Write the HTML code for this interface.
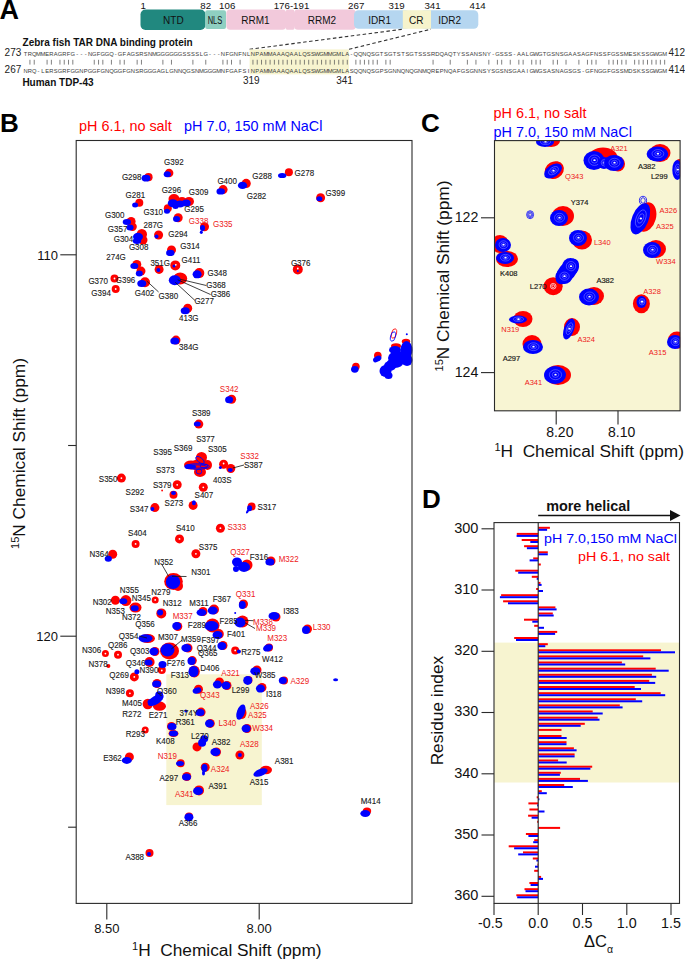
<!DOCTYPE html>
<html><head><meta charset="utf-8"><title>TDP-43 CR figure</title>
<style>html,body{margin:0;padding:0;background:#fff;overflow:hidden;width:685px;height:960px;} svg{display:block;font-family:"Liberation Sans", sans-serif;}</style></head>
<body><svg width="685" height="960" viewBox="0 0 685 960">
<rect width="685" height="960" fill="#fff"/>
<text x="-0.6" y="18.8" font-size="27" fill="#000" font-weight="bold" text-anchor="start" >A</text>
<rect x="140.5" y="9.5" width="65.0" height="20.5" rx="5" ry="5" fill="#21887f"/>
<text x="173.4" y="23.5" font-size="10" fill="#111" font-weight="normal" text-anchor="middle" >NTD</text>
<rect x="205.2" y="10.3" width="20.8" height="18.6" rx="2" ry="2" fill="#8fcfc1"/>
<text x="215.0" y="23.5" font-size="10" fill="#111" font-weight="normal" text-anchor="middle" textLength="14.6" lengthAdjust="spacingAndGlyphs">NLS</text>
<rect x="226.3" y="9.6" width="59.9" height="20.2" rx="4" ry="4" fill="#f2c9db"/>
<text x="255.5" y="23.5" font-size="10" fill="#111" font-weight="normal" text-anchor="middle" >RRM1</text>
<rect x="285.9" y="9.6" width="8.4" height="20.2" rx="1.6" ry="1.6" fill="#f2c9db"/>
<rect x="294.0" y="9.6" width="62.0" height="20.2" rx="4" ry="4" fill="#f2c9db"/>
<text x="322.0" y="23.5" font-size="10" fill="#111" font-weight="normal" text-anchor="middle" >RRM2</text>
<rect x="354.0" y="10.2" width="56.0" height="18.6" rx="4.5" ry="4.5" fill="#b5d6f0"/>
<rect x="420.0" y="10.2" width="58.3" height="18.6" rx="4.5" ry="4.5" fill="#b5d6f0"/>
<rect x="402.8" y="10.2" width="28.2" height="18.6" fill="#f6f3cc" />
<text x="379.6" y="23.5" font-size="10" fill="#111" font-weight="normal" text-anchor="middle" >IDR1</text>
<text x="416.3" y="23.5" font-size="10" fill="#111" font-weight="normal" text-anchor="middle" >CR</text>
<text x="449.7" y="23.5" font-size="10" fill="#111" font-weight="normal" text-anchor="middle" >IDR2</text>
<text x="143.2" y="8.7" font-size="9.7" fill="#111" font-weight="normal" text-anchor="middle" >1</text>
<text x="205.7" y="8.7" font-size="9.7" fill="#111" font-weight="normal" text-anchor="middle" >82</text>
<text x="227.2" y="8.7" font-size="9.7" fill="#111" font-weight="normal" text-anchor="middle" >106</text>
<text x="291.5" y="8.7" font-size="9.7" fill="#111" font-weight="normal" text-anchor="middle" >176-191</text>
<text x="356.2" y="8.7" font-size="9.7" fill="#111" font-weight="normal" text-anchor="middle" >267</text>
<text x="396.6" y="8.7" font-size="9.7" fill="#111" font-weight="normal" text-anchor="middle" >319</text>
<text x="432.5" y="8.7" font-size="9.7" fill="#111" font-weight="normal" text-anchor="middle" >341</text>
<text x="477.6" y="8.7" font-size="9.7" fill="#111" font-weight="normal" text-anchor="middle" >414</text>
<line x1="249.6" y1="49.3" x2="402.8" y2="29.2" stroke="#333" stroke-width="1.1" stroke-dasharray="3.5,2.5"/>
<line x1="349.0" y1="49.3" x2="431.0" y2="29.2" stroke="#333" stroke-width="1.1" stroke-dasharray="3.5,2.5"/>
<rect x="249.6" y="49.4" width="99.4" height="25.0" fill="#f7f4cf" />
<text x="22.6" y="45.6" font-size="10" fill="#111" font-weight="bold" text-anchor="start" >Zebra fish TAR DNA binding protein</text>
<text x="22.4" y="86.0" font-size="10" fill="#111" font-weight="bold" text-anchor="start" >Human TDP-43</text>
<text x="21.3" y="56.4" font-size="10" fill="#222" font-weight="normal" text-anchor="end" >273</text>
<text x="21.3" y="73.3" font-size="10" fill="#222" font-weight="normal" text-anchor="end" >267</text>
<text x="668.5" y="56.3" font-size="10" fill="#222" font-weight="normal" text-anchor="start" >412</text>
<text x="668.5" y="73.2" font-size="10" fill="#222" font-weight="normal" text-anchor="start" >414</text>
<text x="251.3" y="83.5" font-size="10" fill="#222" font-weight="normal" text-anchor="middle" >319</text>
<text x="344.6" y="83.5" font-size="10" fill="#222" font-weight="normal" text-anchor="middle" >341</text>
<text x="25.64 29.93 34.22 38.51 42.80 47.09 51.38 55.66 59.95 64.24 68.53 72.82 77.11 81.40 85.69 89.97 94.26 98.55 102.84 107.13 111.42 115.71 119.99 124.28 128.57 132.86 137.15 141.44 145.73 150.02 154.30 158.59 162.88 167.17 171.46 175.75 180.04 184.32 188.61 192.90 197.19 201.48 205.77 210.06 214.35 218.63 222.92 227.21 231.50 235.79 240.08 244.37 248.65 252.94 257.23 261.52 265.81 270.10 274.39 278.68 282.96 287.25 291.54 295.83 300.12 304.41 308.70 312.98 317.27 321.56 325.85 330.14 334.43 338.72 343.01 347.29 351.58 355.87 360.16 364.45 368.74 373.03 377.31 381.60 385.89 390.18 394.47 398.76 403.05 407.34 411.62 415.91 420.20 424.49 428.78 433.07 437.36 441.64 445.93 450.22 454.51 458.80 463.09 467.38 471.67 475.95 480.24 484.53 488.82 493.11 497.40 501.69 505.97 510.26 514.55 518.84 523.13 527.42 531.71 536.00 540.28 544.57 548.86 553.15 557.44 561.73 566.02 570.30 574.59 578.88 583.17 587.46 591.75 596.04 600.33 604.61 608.90 613.19 617.48 621.77 626.06 630.35 634.63 638.92 643.21 647.50 651.79 656.08 660.37 664.66" y="55.8" font-size="5.8" fill="#3a3a3a" text-anchor="middle">TRQMMERAGRFG---NGFGGQ-GFAGSRSNMGGGGGGSSSSLG---NFGNFNLNPAMMAAAQAALQSSWGMMGMLA-QQNQSGTSGTSTSGTSSSRDQAQTYSSANSNY-GSSS-AALGWGTGSNSGAASAGFNSSFGSSMESKSSGWGM</text>
<text x="25.64 29.93 34.22 38.51 42.80 47.09 51.38 55.66 59.95 64.24 68.53 72.82 77.11 81.40 85.69 89.97 94.26 98.55 102.84 107.13 111.42 115.71 119.99 124.28 128.57 132.86 137.15 141.44 145.73 150.02 154.30 158.59 162.88 167.17 171.46 175.75 180.04 184.32 188.61 192.90 197.19 201.48 205.77 210.06 214.35 218.63 222.92 227.21 231.50 235.79 240.08 244.37 248.65 252.94 257.23 261.52 265.81 270.10 274.39 278.68 282.96 287.25 291.54 295.83 300.12 304.41 308.70 312.98 317.27 321.56 325.85 330.14 334.43 338.72 343.01 347.29 351.58 355.87 360.16 364.45 368.74 373.03 377.31 381.60 385.89 390.18 394.47 398.76 403.05 407.34 411.62 415.91 420.20 424.49 428.78 433.07 437.36 441.64 445.93 450.22 454.51 458.80 463.09 467.38 471.67 475.95 480.24 484.53 488.82 493.11 497.40 501.69 505.97 510.26 514.55 518.84 523.13 527.42 531.71 536.00 540.28 544.57 548.86 553.15 557.44 561.73 566.02 570.30 574.59 578.88 583.17 587.46 591.75 596.04 600.33 604.61 608.90 613.19 617.48 621.77 626.06 630.35 634.63 638.92 643.21 647.50 651.79 656.08 660.37 664.66" y="73.2" font-size="5.8" fill="#3a3a3a" text-anchor="middle">NRQ-LERSGRFGGNPGGFGNQGGFGNSRGGGAGLGNNQGSNMGGGMNFGAFSINPAMMAAAQAALQSSWGMMGMLASQQNQSGPSGNNQNQGNMQREPNQAFGSGNNSYSGSNSGAAIGWGSASNAGSGS-GFNGGFGSSMDSKSSGWGM</text>
<path d="M29.93 59.8V64.6 M34.22 59.8V64.6 M47.09 59.8V64.6 M51.38 59.8V64.6 M59.95 59.8V64.6 M64.24 59.8V64.6 M68.53 59.8V64.6 M72.82 59.8V64.6 M94.26 59.8V64.6 M98.55 59.8V64.6 M102.84 59.8V64.6 M111.42 59.8V64.6 M119.99 59.8V64.6 M124.28 59.8V64.6 M137.15 59.8V64.6 M141.44 59.8V64.6 M162.88 59.8V64.6 M171.46 59.8V64.6 M192.90 59.8V64.6 M205.77 59.8V64.6 M222.92 59.8V64.6 M227.21 59.8V64.6 M231.50 59.8V64.6 M240.08 59.8V64.6 M252.94 59.8V64.6 M257.23 59.8V64.6 M261.52 59.8V64.6 M265.81 59.8V64.6 M270.10 59.8V64.6 M274.39 59.8V64.6 M278.68 59.8V64.6 M282.96 59.8V64.6 M287.25 59.8V64.6 M291.54 59.8V64.6 M295.83 59.8V64.6 M300.12 59.8V64.6 M304.41 59.8V64.6 M308.70 59.8V64.6 M312.98 59.8V64.6 M317.27 59.8V64.6 M321.56 59.8V64.6 M325.85 59.8V64.6 M330.14 59.8V64.6 M334.43 59.8V64.6 M338.72 59.8V64.6 M343.01 59.8V64.6 M347.29 59.8V64.6 M355.87 59.8V64.6 M360.16 59.8V64.6 M364.45 59.8V64.6 M368.74 59.8V64.6 M373.03 59.8V64.6 M377.31 59.8V64.6 M385.89 59.8V64.6 M390.18 59.8V64.6 M433.07 59.8V64.6 M450.22 59.8V64.6 M467.38 59.8V64.6 M475.95 59.8V64.6 M488.82 59.8V64.6 M497.40 59.8V64.6 M501.69 59.8V64.6 M510.26 59.8V64.6 M518.84 59.8V64.6 M523.13 59.8V64.6 M531.71 59.8V64.6 M536.00 59.8V64.6 M540.28 59.8V64.6 M553.15 59.8V64.6 M557.44 59.8V64.6 M566.02 59.8V64.6 M578.88 59.8V64.6 M587.46 59.8V64.6 M591.75 59.8V64.6 M596.04 59.8V64.6 M608.90 59.8V64.6 M613.19 59.8V64.6 M617.48 59.8V64.6 M621.77 59.8V64.6 M626.06 59.8V64.6 M634.63 59.8V64.6 M638.92 59.8V64.6 M643.21 59.8V64.6 M647.50 59.8V64.6 M651.79 59.8V64.6 M656.08 59.8V64.6 M660.37 59.8V64.6 M664.66 59.8V64.6" stroke="#555" stroke-width="0.75" fill="none"/>
<text x="0.0" y="131.9" font-size="26" fill="#000" font-weight="bold" text-anchor="start" >B</text>
<text x="79.0" y="130.8" font-size="14.4" fill="#ff0000" font-weight="normal" text-anchor="start" >pH 6.1, no salt</text>
<text x="184.0" y="130.8" font-size="14.4" fill="#0000ff" font-weight="normal" text-anchor="start" >pH 7.0, 150 mM NaCl</text>
<g id="bpeaks"><rect x="166.3" y="674.3" width="95.5" height="130.8" fill="#f7f4d0"/>
<ellipse cx="169.1" cy="173.0" rx="4.3" ry="4.3" fill="#ff0000" />
<ellipse cx="148.5" cy="177.2" rx="4.1" ry="4.1" fill="#ff0000" />
<ellipse cx="139.3" cy="202.8" rx="4.0" ry="4.0" fill="#ff0000" />
<ellipse cx="174.0" cy="199.0" rx="5.5" ry="5.0" fill="#ff0000" />
<ellipse cx="182.0" cy="201.5" rx="5.0" ry="4.5" fill="#ff0000" />
<ellipse cx="189.0" cy="201.5" rx="5.0" ry="4.5" fill="#ff0000" />
<ellipse cx="167.8" cy="208.2" rx="4.0" ry="4.0" fill="#ff0000" />
<ellipse cx="223.1" cy="189.6" rx="4.5" ry="4.5" fill="#ff0000" />
<ellipse cx="246.2" cy="183.4" rx="4.6" ry="4.6" fill="#ff0000" />
<ellipse cx="288.9" cy="172.3" rx="4.0" ry="4.0" fill="#ff0000" />
<ellipse cx="320.6" cy="197.8" rx="4.5" ry="4.5" fill="#ff0000" />
<ellipse cx="178.2" cy="217.7" rx="4.5" ry="4.5" fill="#ff0000" />
<ellipse cx="204.5" cy="226.8" rx="4.5" ry="4.5" fill="#ff0000" />
<ellipse cx="131.1" cy="221.4" rx="4.5" ry="4.5" fill="#ff0000" />
<ellipse cx="132.6" cy="226.8" rx="4.2" ry="4.2" fill="#ff0000" />
<ellipse cx="141.8" cy="234.3" rx="5.2" ry="5.2" fill="#ff0000" />
<ellipse cx="143.0" cy="240.0" rx="4.5" ry="4.5" fill="#ff0000" />
<ellipse cx="158.6" cy="235.0" rx="4.5" ry="4.5" fill="#ff0000" />
<ellipse cx="171.5" cy="249.9" rx="4.5" ry="4.5" fill="#ff0000" />
<ellipse cx="136.8" cy="264.4" rx="4.5" ry="4.5" fill="#ff0000" />
<ellipse cx="141.0" cy="271.1" rx="4.5" ry="4.5" fill="#ff0000" />
<ellipse cx="145.0" cy="282.3" rx="5.0" ry="5.0" fill="#ff0000" />
<ellipse cx="159.1" cy="269.4" rx="4.5" ry="4.5" fill="#ff0000" />
<ellipse cx="175.3" cy="265.4" rx="5.0" ry="5.0" fill="#ff0000" />
<ellipse cx="114.5" cy="278.5" rx="4.0" ry="4.0" fill="#ff0000" />
<ellipse cx="115.7" cy="289.0" rx="4.0" ry="4.0" fill="#ff0000" />
<ellipse cx="180.2" cy="278.5" rx="7.0" ry="6.0" fill="#ff0000" />
<ellipse cx="199.3" cy="273.1" rx="5.0" ry="5.0" fill="#ff0000" />
<ellipse cx="187.7" cy="308.3" rx="4.5" ry="4.5" fill="#ff0000" />
<ellipse cx="176.0" cy="340.1" rx="4.5" ry="4.5" fill="#ff0000" />
<ellipse cx="297.8" cy="269.4" rx="5.0" ry="5.0" fill="#ff0000" />
<ellipse cx="355.9" cy="366.5" rx="3.8" ry="3.8" fill="#ff0000" />
<ellipse cx="377.8" cy="355.6" rx="3.8" ry="3.8" fill="#ff0000" />
<ellipse cx="396.0" cy="346.0" rx="5.0" ry="2.8" fill="#ff0000" />
<ellipse cx="406.0" cy="341.5" rx="4.2" ry="2.8" fill="#ff0000" />
<ellipse cx="395.0" cy="364.0" rx="2.0" ry="1.5" fill="#ff0000" />
<ellipse cx="231.6" cy="399.3" rx="4.5" ry="4.5" fill="#ff0000" />
<ellipse cx="198.8" cy="424.1" rx="4.5" ry="4.5" fill="#ff0000" />
<ellipse cx="191.0" cy="465.0" rx="7.0" ry="4.5" fill="#ff0000" />
<ellipse cx="201.5" cy="457.5" rx="5.5" ry="5.5" fill="#ff0000" />
<ellipse cx="207.5" cy="465.0" rx="4.5" ry="5.0" fill="#ff0000" />
<ellipse cx="200.0" cy="472.0" rx="6.0" ry="5.0" fill="#ff0000" />
<ellipse cx="199.0" cy="465.0" rx="8.0" ry="6.0" fill="#ff0000" />
<ellipse cx="223.6" cy="464.3" rx="4.5" ry="4.5" fill="#ff0000" />
<ellipse cx="230.8" cy="468.5" rx="4.5" ry="4.5" fill="#ff0000" />
<ellipse cx="121.4" cy="478.1" rx="4.5" ry="4.5" fill="#ff0000" />
<ellipse cx="177.2" cy="484.8" rx="4.5" ry="4.5" fill="#ff0000" />
<ellipse cx="162.1" cy="490.5" rx="0.9" ry="0.9" fill="#ff0000" />
<ellipse cx="173.5" cy="494.7" rx="4.0" ry="4.0" fill="#ff0000" />
<ellipse cx="203.3" cy="487.3" rx="4.5" ry="4.5" fill="#ff0000" />
<ellipse cx="193.1" cy="505.4" rx="4.5" ry="4.5" fill="#ff0000" />
<ellipse cx="154.9" cy="507.6" rx="4.5" ry="4.5" fill="#ff0000" />
<ellipse cx="251.6" cy="506.5" rx="4.0" ry="4.0" fill="#ff0000" />
<ellipse cx="220.4" cy="528.2" rx="4.5" ry="4.5" fill="#ff0000" />
<ellipse cx="135.6" cy="543.9" rx="4.0" ry="4.0" fill="#ff0000" />
<ellipse cx="179.5" cy="538.9" rx="4.5" ry="4.5" fill="#ff0000" />
<ellipse cx="195.9" cy="553.8" rx="4.5" ry="4.5" fill="#ff0000" />
<ellipse cx="112.7" cy="554.3" rx="4.5" ry="4.5" fill="#ff0000" />
<ellipse cx="247.0" cy="565.0" rx="5.5" ry="5.5" fill="#ff0000" />
<ellipse cx="271.0" cy="561.0" rx="4.5" ry="4.5" fill="#ff0000" />
<ellipse cx="173.5" cy="581.5" rx="9.3" ry="8.5" fill="#ff0000" />
<ellipse cx="178.0" cy="586.0" rx="5.0" ry="5.0" fill="#ff0000" />
<ellipse cx="115.4" cy="600.3" rx="4.5" ry="4.5" fill="#ff0000" />
<ellipse cx="125.9" cy="600.6" rx="5.5" ry="5.5" fill="#ff0000" />
<ellipse cx="135.5" cy="607.6" rx="6.0" ry="5.0" fill="#ff0000" />
<ellipse cx="155.2" cy="599.9" rx="3.5" ry="3.5" fill="#ff0000" />
<ellipse cx="161.3" cy="613.4" rx="5.0" ry="5.0" fill="#ff0000" />
<ellipse cx="243.5" cy="604.0" rx="4.5" ry="4.5" fill="#ff0000" />
<ellipse cx="203.0" cy="611.5" rx="4.5" ry="4.5" fill="#ff0000" />
<ellipse cx="214.0" cy="609.5" rx="5.0" ry="5.0" fill="#ff0000" />
<ellipse cx="276.0" cy="617.0" rx="4.5" ry="4.5" fill="#ff0000" />
<ellipse cx="242.5" cy="621.5" rx="6.0" ry="6.0" fill="#ff0000" />
<ellipse cx="307.5" cy="629.0" rx="4.5" ry="4.5" fill="#ff0000" />
<ellipse cx="212.5" cy="625.5" rx="7.0" ry="7.0" fill="#ff0000" />
<ellipse cx="218.8" cy="634.0" rx="5.0" ry="5.0" fill="#ff0000" />
<ellipse cx="177.8" cy="626.5" rx="4.5" ry="4.5" fill="#ff0000" />
<ellipse cx="147.5" cy="638.5" rx="7.5" ry="4.5" fill="#ff0000" />
<ellipse cx="155.0" cy="651.5" rx="4.5" ry="4.5" fill="#ff0000" />
<ellipse cx="169.5" cy="651.0" rx="9.5" ry="8.5" fill="#ff0000" />
<ellipse cx="188.0" cy="648.0" rx="4.5" ry="4.5" fill="#ff0000" />
<ellipse cx="105.4" cy="653.6" rx="3.5" ry="3.5" fill="#ff0000" />
<ellipse cx="118.0" cy="654.7" rx="4.0" ry="4.0" fill="#ff0000" />
<ellipse cx="108.4" cy="665.9" rx="2.0" ry="2.0" fill="#ff0000" />
<ellipse cx="149.6" cy="662.0" rx="5.0" ry="5.0" fill="#ff0000" />
<ellipse cx="161.8" cy="669.9" rx="4.0" ry="4.0" fill="#ff0000" />
<ellipse cx="134.3" cy="676.9" rx="4.5" ry="4.5" fill="#ff0000" />
<ellipse cx="157.0" cy="683.5" rx="4.5" ry="4.5" fill="#ff0000" />
<ellipse cx="129.9" cy="693.3" rx="4.0" ry="4.0" fill="#ff0000" />
<ellipse cx="147.8" cy="704.0" rx="5.2" ry="5.2" fill="#ff0000" />
<ellipse cx="159.5" cy="706.2" rx="6.5" ry="4.6" fill="#ff0000" />
<ellipse cx="223.0" cy="645.5" rx="4.5" ry="4.5" fill="#ff0000" />
<ellipse cx="235.2" cy="650.4" rx="4.0" ry="4.0" fill="#ff0000" />
<ellipse cx="269.0" cy="647.5" rx="4.0" ry="4.0" fill="#ff0000" />
<ellipse cx="192.3" cy="660.6" rx="4.5" ry="4.5" fill="#ff0000" />
<ellipse cx="194.3" cy="671.5" rx="5.5" ry="6.0" fill="#ff0000" />
<ellipse cx="219.5" cy="682.0" rx="4.5" ry="4.5" fill="#ff0000" />
<ellipse cx="227.0" cy="685.5" rx="4.5" ry="4.5" fill="#ff0000" />
<ellipse cx="248.5" cy="680.0" rx="4.0" ry="4.0" fill="#ff0000" />
<ellipse cx="257.0" cy="670.0" rx="4.5" ry="4.5" fill="#ff0000" />
<ellipse cx="284.0" cy="680.5" rx="4.0" ry="4.0" fill="#ff0000" />
<ellipse cx="262.0" cy="687.5" rx="4.5" ry="4.5" fill="#ff0000" />
<ellipse cx="198.5" cy="689.3" rx="4.5" ry="4.5" fill="#ff0000" />
<ellipse cx="201.1" cy="712.1" rx="4.5" ry="4.5" fill="#ff0000" />
<ellipse cx="242.0" cy="713.0" rx="4.5" ry="6.0" fill="#ff0000" />
<ellipse cx="210.3" cy="723.4" rx="4.5" ry="4.5" fill="#ff0000" />
<ellipse cx="247.0" cy="728.5" rx="4.5" ry="4.5" fill="#ff0000" />
<ellipse cx="171.5" cy="726.4" rx="4.5" ry="4.5" fill="#ff0000" />
<ellipse cx="173.5" cy="733.6" rx="5.0" ry="3.5" fill="#ff0000" />
<ellipse cx="197.0" cy="746.9" rx="4.5" ry="4.5" fill="#ff0000" />
<ellipse cx="216.5" cy="752.0" rx="4.5" ry="4.5" fill="#ff0000" />
<ellipse cx="239.9" cy="755.0" rx="4.5" ry="4.5" fill="#ff0000" />
<ellipse cx="180.7" cy="763.2" rx="4.0" ry="4.0" fill="#ff0000" />
<ellipse cx="205.2" cy="767.3" rx="4.5" ry="4.5" fill="#ff0000" />
<ellipse cx="266.0" cy="770.0" rx="6.0" ry="4.2" fill="#ff0000" />
<ellipse cx="186.8" cy="776.5" rx="4.5" ry="4.5" fill="#ff0000" />
<ellipse cx="199.0" cy="790.4" rx="5.0" ry="5.0" fill="#ff0000" />
<ellipse cx="189.0" cy="816.5" rx="4.0" ry="4.0" fill="#ff0000" />
<ellipse cx="149.5" cy="853.1" rx="4.0" ry="4.0" fill="#ff0000" />
<ellipse cx="367.0" cy="811.0" rx="4.2" ry="3.5" fill="#ff0000" />
<ellipse cx="129.4" cy="756.9" rx="4.5" ry="4.5" fill="#ff0000" />
<ellipse cx="145.2" cy="729.9" rx="3.5" ry="3.5" fill="#ff0000" />
<ellipse cx="167.3" cy="174.2" rx="3.6" ry="3.0" fill="#0000ff" />
<ellipse cx="146.0" cy="178.2" rx="4.4" ry="3.4" fill="#0000ff" />
<ellipse cx="135.1" cy="205.0" rx="3.0" ry="2.5" fill="#0000ff" />
<ellipse cx="172.8" cy="203.2" rx="5.0" ry="4.0" fill="#0000ff" />
<ellipse cx="180.0" cy="204.0" rx="5.0" ry="3.6" fill="#0000ff" />
<ellipse cx="186.2" cy="203.0" rx="4.5" ry="3.5" fill="#0000ff" />
<ellipse cx="175.5" cy="206.5" rx="3.0" ry="2.5" fill="#0000ff" />
<ellipse cx="167.0" cy="211.2" rx="3.0" ry="2.5" fill="#0000ff" />
<ellipse cx="220.7" cy="191.4" rx="4.2" ry="3.2" fill="#0000ff" />
<ellipse cx="242.5" cy="185.4" rx="4.6" ry="3.6" fill="#0000ff" />
<ellipse cx="282.2" cy="175.5" rx="4.2" ry="2.6" fill="#0000ff" />
<ellipse cx="319.4" cy="198.8" rx="3.0" ry="2.5" fill="#0000ff" />
<ellipse cx="176.5" cy="218.9" rx="3.5" ry="3.0" fill="#0000ff" />
<ellipse cx="202.5" cy="228.1" rx="2.5" ry="3.0" fill="#0000ff" />
<ellipse cx="201.3" cy="232.3" rx="1.5" ry="1.8" fill="#0000ff" />
<ellipse cx="126.9" cy="221.9" rx="4.2" ry="3.0" fill="#0000ff" />
<ellipse cx="130.0" cy="227.5" rx="3.6" ry="3.0" fill="#0000ff" />
<ellipse cx="138.0" cy="236.8" rx="5.0" ry="4.0" fill="#0000ff" />
<ellipse cx="137.0" cy="241.0" rx="4.2" ry="3.0" fill="#0000ff" />
<ellipse cx="156.5" cy="236.5" rx="2.0" ry="2.0" fill="#0000ff" />
<ellipse cx="170.3" cy="252.9" rx="4.2" ry="3.2" fill="#0000ff" />
<ellipse cx="134.3" cy="266.1" rx="4.0" ry="3.0" fill="#0000ff" />
<ellipse cx="139.3" cy="273.6" rx="3.5" ry="3.0" fill="#0000ff" />
<ellipse cx="141.8" cy="283.5" rx="4.5" ry="3.5" fill="#0000ff" />
<ellipse cx="158.4" cy="269.9" rx="2.0" ry="2.0" fill="#0000ff" />
<ellipse cx="174.0" cy="266.0" rx="1.5" ry="1.5" fill="#0000ff" />
<ellipse cx="174.8" cy="280.3" rx="6.0" ry="5.0" fill="#0000ff" />
<ellipse cx="197.1" cy="274.3" rx="4.5" ry="4.0" fill="#0000ff" />
<ellipse cx="185.2" cy="310.8" rx="4.5" ry="3.5" fill="#0000ff" />
<ellipse cx="174.8" cy="341.1" rx="4.5" ry="3.5" fill="#0000ff" />
<ellipse cx="297.8" cy="271.0" rx="1.0" ry="1.0" fill="#0000ff" />
<ellipse cx="354.8" cy="369.3" rx="3.8" ry="3.4" fill="#0000ff" />
<ellipse cx="377.2" cy="358.9" rx="4.5" ry="2.8" fill="#0000ff" transform="rotate(-30 377.2 358.9)" />
<ellipse cx="385.5" cy="371.0" rx="6.0" ry="6.0" fill="#0000ff" />
<ellipse cx="390.0" cy="366.0" rx="6.0" ry="5.0" fill="#0000ff" />
<ellipse cx="398.0" cy="358.0" rx="10.0" ry="7.0" fill="#0000ff" />
<ellipse cx="406.5" cy="350.0" rx="6.0" ry="9.0" fill="#0000ff" />
<ellipse cx="407.0" cy="360.0" rx="5.5" ry="6.0" fill="#0000ff" />
<ellipse cx="395.0" cy="350.0" rx="6.0" ry="4.0" fill="#0000ff" />
<ellipse cx="395.0" cy="363.0" rx="8.0" ry="5.0" fill="#0000ff" />
<ellipse cx="388.5" cy="375.5" rx="4.0" ry="3.5" fill="#0000ff" />
<ellipse cx="406.8" cy="334.2" rx="1.0" ry="1.0" fill="#0000ff" />
<ellipse cx="229.1" cy="399.8" rx="4.0" ry="3.5" fill="#0000ff" />
<ellipse cx="197.3" cy="424.1" rx="3.5" ry="2.5" fill="#0000ff" />
<ellipse cx="189.0" cy="466.5" rx="4.5" ry="2.6" fill="#0000ff" />
<ellipse cx="193.0" cy="466.8" rx="3.0" ry="2.0" fill="#0000ff" />
<ellipse cx="220.4" cy="467.5" rx="1.5" ry="1.5" fill="#0000ff" />
<ellipse cx="230.3" cy="470.0" rx="2.5" ry="2.0" fill="#0000ff" />
<ellipse cx="173.5" cy="493.0" rx="2.5" ry="2.0" fill="#0000ff" />
<ellipse cx="193.9" cy="502.7" rx="2.0" ry="2.5" fill="#0000ff" />
<ellipse cx="152.4" cy="508.9" rx="2.0" ry="2.0" fill="#0000ff" />
<ellipse cx="249.6" cy="508.2" rx="2.5" ry="3.0" fill="#0000ff" />
<ellipse cx="247.5" cy="511.5" rx="1.2" ry="2.2" fill="#0000ff" transform="rotate(30 247.5 511.5)" />
<ellipse cx="108.3" cy="558.8" rx="3.6" ry="3.0" fill="#0000ff" />
<ellipse cx="237.0" cy="562.0" rx="5.0" ry="4.5" fill="#0000ff" />
<ellipse cx="244.0" cy="567.0" rx="6.0" ry="5.0" fill="#0000ff" />
<ellipse cx="236.0" cy="569.0" rx="3.0" ry="3.0" fill="#0000ff" />
<ellipse cx="269.9" cy="562.0" rx="4.5" ry="3.5" fill="#0000ff" />
<ellipse cx="173.0" cy="582.0" rx="7.2" ry="7.0" fill="#0000ff" />
<ellipse cx="123.3" cy="601.2" rx="4.0" ry="3.0" fill="#0000ff" />
<ellipse cx="134.7" cy="608.2" rx="4.0" ry="3.0" fill="#0000ff" />
<ellipse cx="160.1" cy="612.5" rx="3.0" ry="3.0" fill="#0000ff" />
<ellipse cx="242.3" cy="605.0" rx="3.5" ry="4.0" fill="#0000ff" />
<ellipse cx="201.5" cy="612.6" rx="5.0" ry="3.5" fill="#0000ff" />
<ellipse cx="212.7" cy="610.5" rx="5.0" ry="4.0" fill="#0000ff" />
<ellipse cx="274.0" cy="616.0" rx="5.5" ry="4.0" fill="#0000ff" />
<ellipse cx="235.2" cy="613.0" rx="1.0" ry="1.0" fill="#0000ff" />
<ellipse cx="240.0" cy="622.5" rx="5.5" ry="5.0" fill="#0000ff" />
<ellipse cx="306.0" cy="630.0" rx="4.0" ry="4.0" fill="#0000ff" />
<ellipse cx="211.5" cy="626.0" rx="7.0" ry="5.0" fill="#0000ff" />
<ellipse cx="217.5" cy="635.0" rx="5.0" ry="4.0" fill="#0000ff" />
<ellipse cx="176.7" cy="626.0" rx="4.5" ry="4.0" fill="#0000ff" />
<ellipse cx="145.5" cy="638.3" rx="7.0" ry="4.0" fill="#0000ff" />
<ellipse cx="153.9" cy="651.5" rx="4.5" ry="4.0" fill="#0000ff" />
<ellipse cx="167.5" cy="650.0" rx="7.0" ry="6.5" fill="#0000ff" />
<ellipse cx="186.3" cy="648.0" rx="5.0" ry="4.0" fill="#0000ff" />
<ellipse cx="148.5" cy="662.5" rx="4.0" ry="3.0" fill="#0000ff" />
<ellipse cx="162.5" cy="664.5" rx="4.0" ry="3.5" fill="#0000ff" />
<ellipse cx="136.9" cy="671.7" rx="2.5" ry="2.5" fill="#0000ff" />
<ellipse cx="156.6" cy="683.9" rx="4.5" ry="3.5" fill="#0000ff" />
<ellipse cx="159.2" cy="695.3" rx="4.0" ry="4.0" fill="#0000ff" />
<ellipse cx="155.7" cy="700.1" rx="9.0" ry="4.2" fill="#0000ff" transform="rotate(-32 155.7 700.1)" />
<ellipse cx="151.5" cy="702.0" rx="4.0" ry="3.0" fill="#0000ff" />
<ellipse cx="221.9" cy="645.9" rx="4.5" ry="4.0" fill="#0000ff" />
<ellipse cx="238.9" cy="651.4" rx="2.0" ry="2.0" fill="#0000ff" />
<ellipse cx="267.9" cy="647.9" rx="5.0" ry="3.5" fill="#0000ff" transform="rotate(-20 267.9 647.9)" />
<ellipse cx="191.5" cy="661.0" rx="4.0" ry="4.0" fill="#0000ff" />
<ellipse cx="193.5" cy="671.5" rx="5.0" ry="5.5" fill="#0000ff" />
<ellipse cx="217.4" cy="684.5" rx="4.5" ry="4.0" fill="#0000ff" />
<ellipse cx="226.0" cy="685.5" rx="4.5" ry="4.0" fill="#0000ff" />
<ellipse cx="247.7" cy="680.4" rx="4.5" ry="4.5" fill="#0000ff" />
<ellipse cx="255.3" cy="671.2" rx="5.0" ry="4.0" fill="#0000ff" />
<ellipse cx="282.8" cy="680.4" rx="4.0" ry="3.5" fill="#0000ff" />
<ellipse cx="335.6" cy="679.7" rx="2.5" ry="1.5" fill="#0000ff" />
<ellipse cx="260.4" cy="688.6" rx="4.5" ry="4.0" fill="#0000ff" />
<ellipse cx="197.0" cy="690.5" rx="4.5" ry="3.0" fill="#0000ff" transform="rotate(-20 197.0 690.5)" />
<ellipse cx="185.8" cy="711.1" rx="1.5" ry="1.5" fill="#0000ff" />
<ellipse cx="200.0" cy="712.5" rx="4.5" ry="3.5" fill="#0000ff" />
<ellipse cx="240.9" cy="712.1" rx="4.0" ry="8.0" fill="#0000ff" transform="rotate(20 240.9 712.1)" />
<ellipse cx="209.5" cy="723.5" rx="4.5" ry="4.0" fill="#0000ff" />
<ellipse cx="246.1" cy="728.5" rx="4.5" ry="4.0" fill="#0000ff" />
<ellipse cx="172.0" cy="726.5" rx="4.5" ry="3.5" fill="#0000ff" />
<ellipse cx="173.5" cy="733.6" rx="4.5" ry="3.0" fill="#0000ff" />
<ellipse cx="204.2" cy="738.7" rx="4.0" ry="3.5" fill="#0000ff" />
<ellipse cx="202.1" cy="742.8" rx="4.0" ry="4.0" fill="#0000ff" />
<ellipse cx="215.4" cy="752.0" rx="5.0" ry="4.0" fill="#0000ff" />
<ellipse cx="239.9" cy="755.0" rx="2.0" ry="2.0" fill="#0000ff" />
<ellipse cx="180.0" cy="763.5" rx="4.0" ry="2.5" fill="#0000ff" />
<ellipse cx="204.5" cy="768.0" rx="3.0" ry="4.0" fill="#0000ff" />
<ellipse cx="203.5" cy="773.0" rx="1.5" ry="2.5" fill="#0000ff" />
<ellipse cx="260.5" cy="772.5" rx="7.5" ry="3.6" fill="#0000ff" transform="rotate(-22 260.5 772.5)" />
<ellipse cx="186.5" cy="777.0" rx="4.5" ry="3.5" fill="#0000ff" />
<ellipse cx="198.0" cy="791.0" rx="5.0" ry="4.0" fill="#0000ff" />
<ellipse cx="188.9" cy="817.2" rx="4.5" ry="4.0" fill="#0000ff" />
<ellipse cx="149.0" cy="854.0" rx="2.0" ry="2.0" fill="#0000ff" />
<ellipse cx="365.3" cy="813.5" rx="5.0" ry="3.5" fill="#0000ff" />
<ellipse cx="126.8" cy="760.4" rx="5.0" ry="3.5" fill="#0000ff" />
<ellipse cx="197.5" cy="466.5" rx="12.0" ry="2.8" fill="none" stroke="#0000ff" stroke-width="0.9"/>
<ellipse cx="197.5" cy="466.5" rx="9.0" ry="1.6" fill="none" stroke="#0000ff" stroke-width="0.9"/>
<ellipse cx="200.0" cy="460.0" rx="5.0" ry="2.3" fill="none" transform="rotate(35 200.0 460.0)" stroke="#0000ff" stroke-width="0.9"/>
<ellipse cx="199.0" cy="471.5" rx="2.8" ry="2.5" fill="none" stroke="#0000ff" stroke-width="0.9"/>
<ellipse cx="204.0" cy="466.0" rx="4.0" ry="2.0" fill="none" stroke="#0000ff" stroke-width="0.9"/>
<ellipse cx="121.4" cy="478.1" rx="0.9" ry="0.9" fill="#fff" />
<ellipse cx="177.2" cy="484.8" rx="0.9" ry="0.9" fill="#fff" />
<ellipse cx="203.3" cy="487.3" rx="0.9" ry="0.9" fill="#fff" />
<ellipse cx="220.4" cy="528.2" rx="0.9" ry="0.9" fill="#fff" />
<ellipse cx="135.6" cy="543.9" rx="0.9" ry="0.9" fill="#fff" />
<ellipse cx="179.5" cy="538.9" rx="0.9" ry="0.9" fill="#fff" />
<ellipse cx="195.9" cy="553.8" rx="0.9" ry="0.9" fill="#fff" />
<ellipse cx="129.9" cy="693.3" rx="0.9" ry="0.9" fill="#fff" />
<ellipse cx="118.0" cy="654.7" rx="0.9" ry="0.9" fill="#fff" />
<ellipse cx="105.4" cy="653.6" rx="0.9" ry="0.9" fill="#fff" />
<ellipse cx="297.8" cy="268.5" rx="0.9" ry="0.9" fill="#fff" />
<ellipse cx="175.8" cy="264.8" rx="0.9" ry="0.9" fill="#fff" />
<ellipse cx="115.7" cy="289.0" rx="0.9" ry="0.9" fill="#fff" />
<ellipse cx="114.5" cy="278.5" rx="0.9" ry="0.9" fill="#fff" />
<ellipse cx="223.6" cy="463.5" rx="0.9" ry="0.9" fill="#fff" />
<ellipse cx="134.3" cy="676.9" rx="0.9" ry="0.9" fill="#fff" />
<ellipse cx="145.2" cy="729.9" rx="0.9" ry="0.9" fill="#fff" />
<ellipse cx="155.2" cy="599.9" rx="0.9" ry="0.9" fill="#fff" />
<ellipse cx="161.8" cy="670.5" rx="0.9" ry="0.9" fill="#fff" />
<ellipse cx="235.2" cy="650.4" rx="0.9" ry="0.9" fill="#fff" />
<ellipse cx="394" cy="333.5" rx="2.4" ry="4.8" fill="none" stroke="#ff0000" stroke-width="0.8" transform="rotate(15 394 333.5)"/>
<ellipse cx="393" cy="336.5" rx="2.4" ry="4.8" fill="none" stroke="#0000ff" stroke-width="0.8" transform="rotate(15 393 336.5)"/>
<path d="M161.8 564.4L168.8 576.6 M172.0 576.3L186.5 576.5 M146.7 281.0L158.6 292.0 M180.2 279.3L206.3 285.5 M177.7 279.8L210.5 294.5 M175.3 282.3L195.0 300.5 M232.8 468.0L244.0 465.0 M139.0 636.0L147.0 638.0 M171.4 648.9L182.0 640.1 M245.0 620.3L253.6 620.7 M245.0 622.8L255.0 628.5" stroke="#111" stroke-width="0.8" fill="none"/>
<g transform="scale(0.92 1)" font-size="8.7" stroke-width="0.12">
<text x="178.4" y="164.7" fill="#1a1a1a" stroke="#1a1a1a">G392</text>
<text x="132.5" y="180.1" fill="#1a1a1a" stroke="#1a1a1a">G298</text>
<text x="136.5" y="198.0" fill="#1a1a1a" stroke="#1a1a1a">G281</text>
<text x="175.7" y="193.0" fill="#1a1a1a" stroke="#1a1a1a">G296</text>
<text x="205.3" y="195.5" fill="#1a1a1a" stroke="#1a1a1a">G309</text>
<text x="200.4" y="212.4" fill="#1a1a1a" stroke="#1a1a1a">G295</text>
<text x="156.0" y="214.8" fill="#1a1a1a" stroke="#1a1a1a">G310</text>
<text x="236.3" y="183.8" fill="#1a1a1a" stroke="#1a1a1a">G400</text>
<text x="274.3" y="179.4" fill="#1a1a1a" stroke="#1a1a1a">G288</text>
<text x="320.2" y="175.9" fill="#1a1a1a" stroke="#1a1a1a">G278</text>
<text x="268.2" y="199.2" fill="#1a1a1a" stroke="#1a1a1a">G282</text>
<text x="353.9" y="196.2" fill="#1a1a1a" stroke="#1a1a1a">G399</text>
<text x="114.1" y="217.8" fill="#1a1a1a" stroke="#1a1a1a">G300</text>
<text x="117.2" y="231.7" fill="#1a1a1a" stroke="#1a1a1a">G357</text>
<text x="123.6" y="242.1" fill="#1a1a1a" stroke="#1a1a1a">G304</text>
<text x="140.1" y="249.6" fill="#1a1a1a" stroke="#1a1a1a">G308</text>
<text x="156.0" y="227.7" fill="#1a1a1a" stroke="#1a1a1a">287G</text>
<text x="182.9" y="237.2" fill="#1a1a1a" stroke="#1a1a1a">G294</text>
<text x="195.9" y="248.8" fill="#1a1a1a" stroke="#1a1a1a">G314</text>
<text x="115.5" y="259.8" fill="#1a1a1a" stroke="#1a1a1a">274G</text>
<text x="163.5" y="266.5" fill="#1a1a1a" stroke="#1a1a1a">351G</text>
<text x="197.3" y="262.8" fill="#1a1a1a" stroke="#1a1a1a">G411</text>
<text x="96.1" y="283.9" fill="#1a1a1a" stroke="#1a1a1a">G370</text>
<text x="125.8" y="283.2" fill="#1a1a1a" stroke="#1a1a1a">G396</text>
<text x="99.3" y="295.8" fill="#1a1a1a" stroke="#1a1a1a">G394</text>
<text x="146.5" y="295.6" fill="#1a1a1a" stroke="#1a1a1a">G402</text>
<text x="172.4" y="298.8" fill="#1a1a1a" stroke="#1a1a1a">G380</text>
<text x="225.5" y="276.4" fill="#1a1a1a" stroke="#1a1a1a">G348</text>
<text x="224.2" y="288.1" fill="#1a1a1a" stroke="#1a1a1a">G368</text>
<text x="229.0" y="297.1" fill="#1a1a1a" stroke="#1a1a1a">G386</text>
<text x="211.3" y="304.5" fill="#1a1a1a" stroke="#1a1a1a">G277</text>
<text x="194.6" y="321.1" fill="#1a1a1a" stroke="#1a1a1a">413G</text>
<text x="194.6" y="349.7" fill="#1a1a1a" stroke="#1a1a1a">384G</text>
<text x="316.2" y="265.8" fill="#1a1a1a" stroke="#1a1a1a">G376</text>
<text x="208.6" y="416.3" fill="#1a1a1a" stroke="#1a1a1a">S389</text>
<text x="213.2" y="442.4" fill="#1a1a1a" stroke="#1a1a1a">S377</text>
<text x="188.9" y="451.5" fill="#1a1a1a" stroke="#1a1a1a">S369</text>
<text x="226.1" y="452.3" fill="#1a1a1a" stroke="#1a1a1a">S305</text>
<text x="166.7" y="455.3" fill="#1a1a1a" stroke="#1a1a1a">S395</text>
<text x="265.2" y="468.4" fill="#1a1a1a" stroke="#1a1a1a">S387</text>
<text x="169.5" y="473.4" fill="#1a1a1a" stroke="#1a1a1a">S373</text>
<text x="231.5" y="483.3" fill="#1a1a1a" stroke="#1a1a1a">403S</text>
<text x="166.2" y="488.0" fill="#1a1a1a" stroke="#1a1a1a">S379</text>
<text x="107.4" y="482.2" fill="#1a1a1a" stroke="#1a1a1a">S350</text>
<text x="136.5" y="495.1" fill="#1a1a1a" stroke="#1a1a1a">S292</text>
<text x="211.5" y="497.6" fill="#1a1a1a" stroke="#1a1a1a">S407</text>
<text x="178.9" y="506.3" fill="#1a1a1a" stroke="#1a1a1a">S273</text>
<text x="141.1" y="511.8" fill="#1a1a1a" stroke="#1a1a1a">S347</text>
<text x="280.0" y="509.9" fill="#1a1a1a" stroke="#1a1a1a">S317</text>
<text x="139.2" y="536.1" fill="#1a1a1a" stroke="#1a1a1a">S404</text>
<text x="191.3" y="531.1" fill="#1a1a1a" stroke="#1a1a1a">S410</text>
<text x="216.1" y="549.7" fill="#1a1a1a" stroke="#1a1a1a">S375</text>
<text x="97.4" y="557.2" fill="#1a1a1a" stroke="#1a1a1a">N364</text>
<text x="167.6" y="564.6" fill="#1a1a1a" stroke="#1a1a1a">N352</text>
<text x="208.0" y="575.0" fill="#1a1a1a" stroke="#1a1a1a">N301</text>
<text x="271.6" y="559.8" fill="#1a1a1a" stroke="#1a1a1a">F316</text>
<text x="130.2" y="592.8" fill="#1a1a1a" stroke="#1a1a1a">N355</text>
<text x="164.5" y="594.6" fill="#1a1a1a" stroke="#1a1a1a">N279</text>
<text x="143.2" y="600.7" fill="#1a1a1a" stroke="#1a1a1a">N345</text>
<text x="100.7" y="605.1" fill="#1a1a1a" stroke="#1a1a1a">N302</text>
<text x="176.8" y="606.3" fill="#1a1a1a" stroke="#1a1a1a">N312</text>
<text x="115.0" y="613.8" fill="#1a1a1a" stroke="#1a1a1a">N353</text>
<text x="132.5" y="619.9" fill="#1a1a1a" stroke="#1a1a1a">N372</text>
<text x="205.7" y="605.8" fill="#1a1a1a" stroke="#1a1a1a">M311</text>
<text x="231.2" y="601.7" fill="#1a1a1a" stroke="#1a1a1a">F367</text>
<text x="307.8" y="614.4" fill="#1a1a1a" stroke="#1a1a1a">I383</text>
<text x="204.1" y="627.9" fill="#1a1a1a" stroke="#1a1a1a">F289</text>
<text x="238.5" y="623.8" fill="#1a1a1a" stroke="#1a1a1a">F285</text>
<text x="147.0" y="627.0" fill="#1a1a1a" stroke="#1a1a1a">Q356</text>
<text x="129.2" y="639.4" fill="#1a1a1a" stroke="#1a1a1a">Q354</text>
<text x="171.7" y="639.9" fill="#1a1a1a" stroke="#1a1a1a">M307</text>
<text x="196.7" y="641.6" fill="#1a1a1a" stroke="#1a1a1a">M359</text>
<text x="246.7" y="637.5" fill="#1a1a1a" stroke="#1a1a1a">F401</text>
<text x="219.0" y="643.2" fill="#1a1a1a" stroke="#1a1a1a">F397</text>
<text x="117.3" y="648.4" fill="#1a1a1a" stroke="#1a1a1a">Q286</text>
<text x="89.2" y="652.8" fill="#1a1a1a" stroke="#1a1a1a">N306</text>
<text x="141.2" y="653.7" fill="#1a1a1a" stroke="#1a1a1a">Q303</text>
<text x="213.9" y="650.8" fill="#1a1a1a" stroke="#1a1a1a">Q344</text>
<text x="215.2" y="656.5" fill="#1a1a1a" stroke="#1a1a1a">Q365</text>
<text x="262.3" y="654.8" fill="#1a1a1a" stroke="#1a1a1a">R275</text>
<text x="284.8" y="662.0" fill="#1a1a1a" stroke="#1a1a1a">W412</text>
<text x="96.3" y="666.8" fill="#1a1a1a" stroke="#1a1a1a">N378</text>
<text x="136.8" y="665.9" fill="#1a1a1a" stroke="#1a1a1a">Q346</text>
<text x="181.2" y="666.3" fill="#1a1a1a" stroke="#1a1a1a">F276</text>
<text x="151.5" y="672.9" fill="#1a1a1a" stroke="#1a1a1a">N390</text>
<text x="118.8" y="678.2" fill="#1a1a1a" stroke="#1a1a1a">Q269</text>
<text x="185.7" y="677.6" fill="#1a1a1a" stroke="#1a1a1a">F313</text>
<text x="217.7" y="671.1" fill="#1a1a1a" stroke="#1a1a1a">D406</text>
<text x="276.8" y="678.2" fill="#1a1a1a" stroke="#1a1a1a">W385</text>
<text x="251.8" y="693.5" fill="#1a1a1a" stroke="#1a1a1a">L299</text>
<text x="289.1" y="696.9" fill="#1a1a1a" stroke="#1a1a1a">I318</text>
<text x="170.7" y="694.1" fill="#1a1a1a" stroke="#1a1a1a">Q360</text>
<text x="115.0" y="694.3" fill="#1a1a1a" stroke="#1a1a1a">N398</text>
<text x="132.5" y="705.6" fill="#1a1a1a" stroke="#1a1a1a">M405</text>
<text x="133.0" y="717.5" fill="#1a1a1a" stroke="#1a1a1a">R272</text>
<text x="161.6" y="717.9" fill="#1a1a1a" stroke="#1a1a1a">E271</text>
<text x="195.1" y="715.7" fill="#1a1a1a" stroke="#1a1a1a">374Y</text>
<text x="190.9" y="725.2" fill="#1a1a1a" stroke="#1a1a1a">R361</text>
<text x="136.8" y="736.8" fill="#1a1a1a" stroke="#1a1a1a">R293</text>
<text x="169.5" y="744.0" fill="#1a1a1a" stroke="#1a1a1a">K408</text>
<text x="207.5" y="739.1" fill="#1a1a1a" stroke="#1a1a1a">L270</text>
<text x="230.1" y="744.6" fill="#1a1a1a" stroke="#1a1a1a">A382</text>
<text x="112.1" y="761.0" fill="#1a1a1a" stroke="#1a1a1a">E362</text>
<text x="298.7" y="763.7" fill="#1a1a1a" stroke="#1a1a1a">A381</text>
<text x="173.4" y="780.8" fill="#1a1a1a" stroke="#1a1a1a">A297</text>
<text x="271.4" y="785.1" fill="#1a1a1a" stroke="#1a1a1a">A315</text>
<text x="226.6" y="789.4" fill="#1a1a1a" stroke="#1a1a1a">A391</text>
<text x="194.3" y="826.4" fill="#1a1a1a" stroke="#1a1a1a">A366</text>
<text x="136.3" y="860.1" fill="#1a1a1a" stroke="#1a1a1a">A388</text>
<text x="392.0" y="804.4" fill="#1a1a1a" stroke="#1a1a1a">M414</text>
<text x="205.3" y="224.3" fill="#ee2020">G338</text>
<text x="231.5" y="227.2" fill="#ee2020">G335</text>
<text x="239.0" y="392.2" fill="#ee2020">S342</text>
<text x="261.2" y="459.0" fill="#ee2020">S332</text>
<text x="247.2" y="529.9" fill="#ee2020">S333</text>
<text x="250.2" y="555.2" fill="#ee2020">Q327</text>
<text x="302.9" y="561.9" fill="#ee2020">M322</text>
<text x="256.3" y="596.6" fill="#ee2020">Q331</text>
<text x="187.7" y="619.4" fill="#ee2020">M337</text>
<text x="275.0" y="625.2" fill="#ee2020">M338</text>
<text x="278.3" y="630.9" fill="#ee2020">M339</text>
<text x="340.0" y="630.4" fill="#ee2020">L330</text>
<text x="290.5" y="641.0" fill="#ee2020">M323</text>
<text x="240.4" y="676.5" fill="#ee2020">A321</text>
<text x="315.8" y="683.6" fill="#ee2020">A329</text>
<text x="217.5" y="698.2" fill="#ee2020">Q343</text>
<text x="271.8" y="709.4" fill="#ee2020">A326</text>
<text x="269.7" y="717.6" fill="#ee2020">A325</text>
<text x="237.5" y="726.2" fill="#ee2020">L340</text>
<text x="274.1" y="730.9" fill="#ee2020">W334</text>
<text x="260.8" y="747.3" fill="#ee2020">A328</text>
<text x="171.5" y="759.5" fill="#ee2020">N319</text>
<text x="229.2" y="771.8" fill="#ee2020">A324</text>
<text x="190.1" y="797.4" fill="#ee2020">A341</text>
</g></g>
<rect x="76.2" y="140.5" width="335.8" height="762.9" fill="none" stroke="#2a2a2a" stroke-width="1.1"/>
<line x1="60.3" y1="254.8" x2="76.2" y2="254.8" stroke="#2a2a2a" stroke-width="1.1" />
<text x="58.0" y="259.7" font-size="13" fill="#111" font-weight="normal" text-anchor="end" >110</text>
<line x1="60.3" y1="636.2" x2="76.2" y2="636.2" stroke="#2a2a2a" stroke-width="1.1" />
<text x="58.0" y="641.1" font-size="13" fill="#111" font-weight="normal" text-anchor="end" >120</text>
<line x1="68.1" y1="445.5" x2="76.2" y2="445.5" stroke="#2a2a2a" stroke-width="1.1" />
<line x1="68.1" y1="827.2" x2="76.2" y2="827.2" stroke="#2a2a2a" stroke-width="1.1" />
<line x1="106.8" y1="903.4" x2="106.8" y2="919.4" stroke="#2a2a2a" stroke-width="1.1" />
<text x="106.8" y="933.0" font-size="13" fill="#111" font-weight="normal" text-anchor="middle" >8.50</text>
<line x1="259.2" y1="903.4" x2="259.2" y2="919.4" stroke="#2a2a2a" stroke-width="1.1" />
<text x="259.2" y="933.0" font-size="13" fill="#111" font-weight="normal" text-anchor="middle" >8.00</text>
<text x="226.8" y="956" font-size="17.3" fill="#111" text-anchor="middle"><tspan font-size="11" dy="-6.5">1</tspan><tspan dy="6.5">H &#160;Chemical Shift (ppm)</tspan></text>
<text transform="translate(25.3,453.5) rotate(-90)" font-size="17.3" fill="#111" text-anchor="middle"><tspan font-size="11" dy="-6.5">15</tspan><tspan dy="6.5">N Chemical Shift (ppm)</tspan></text>
<text x="421.0" y="131.8" font-size="26" fill="#000" font-weight="bold" text-anchor="start" >C</text>
<text x="493.6" y="117.6" font-size="14.4" fill="#ff0000" font-weight="normal" text-anchor="start" >pH 6.1, no salt</text>
<text x="493.6" y="136.6" font-size="14.4" fill="#0000ff" font-weight="normal" text-anchor="start" >pH 7.0, 150 mM NaCl</text>
<defs><clipPath id="cc"><rect x="494.5" y="140.6" width="185.60000000000002" height="270.20000000000005"/></clipPath></defs>
<rect x="494.5" y="140.6" width="185.60000000000002" height="270.20000000000005" fill="#f8f5d3"/>
<g clip-path="url(#cc)"><ellipse cx="551.0" cy="141.0" rx="9.0" ry="6.0" fill="#ff0000" />
<ellipse cx="603.0" cy="157.5" rx="14.5" ry="10.0" fill="#ff0000" />
<ellipse cx="618.0" cy="164.0" rx="7.0" ry="7.5" fill="#ff0000" />
<ellipse cx="660.0" cy="153.0" rx="10.5" ry="9.0" fill="#ff0000" />
<ellipse cx="679.0" cy="168.0" rx="5.0" ry="9.0" fill="#ff0000" />
<ellipse cx="554.3" cy="170.1" rx="10.0" ry="8.5" fill="#ff0000" transform="rotate(-30 554.3 170.1)" />
<ellipse cx="563.0" cy="216.0" rx="11.0" ry="10.0" fill="#ff0000" />
<ellipse cx="646.0" cy="217.0" rx="10.0" ry="15.0" fill="#ff0000" transform="rotate(15 646.0 217.0)" />
<ellipse cx="582.0" cy="240.0" rx="10.0" ry="9.5" fill="#ff0000" />
<ellipse cx="656.0" cy="249.0" rx="10.0" ry="9.0" fill="#ff0000" />
<ellipse cx="500.0" cy="244.0" rx="9.0" ry="9.0" fill="#ff0000" />
<ellipse cx="507.0" cy="259.0" rx="11.0" ry="8.0" fill="#ff0000" />
<ellipse cx="553.2" cy="286.2" rx="9.5" ry="9.0" fill="#ff0000" />
<ellipse cx="594.0" cy="296.0" rx="10.0" ry="9.0" fill="#ff0000" />
<ellipse cx="641.4" cy="303.8" rx="8.5" ry="9.5" fill="#ff0000" />
<ellipse cx="523.0" cy="319.0" rx="9.5" ry="8.0" fill="#ff0000" />
<ellipse cx="572.0" cy="327.0" rx="8.0" ry="9.0" fill="#ff0000" />
<ellipse cx="532.0" cy="344.0" rx="9.5" ry="9.0" fill="#ff0000" />
<ellipse cx="677.0" cy="340.0" rx="9.0" ry="8.5" fill="#ff0000" />
<ellipse cx="558.0" cy="375.0" rx="13.0" ry="10.0" fill="#ff0000" />
<ellipse cx="545.0" cy="142.0" rx="9.0" ry="5.0" fill="#0000ff" />
<ellipse cx="545.5" cy="141.7" rx="5.0" ry="2.8" fill="none" stroke="#9090ff" stroke-width="0.5"/>
<ellipse cx="545.5" cy="141.7" rx="2.7" ry="1.5" fill="none" stroke="#9090ff" stroke-width="0.5"/>
<ellipse cx="545.5" cy="141.7" rx="1.2" ry="0.9" fill="#fff" />
<ellipse cx="594.0" cy="160.5" rx="10.5" ry="9.5" fill="#0000ff" />
<ellipse cx="594.5" cy="160.2" rx="5.8" ry="5.2" fill="none" stroke="#9090ff" stroke-width="0.5"/>
<ellipse cx="594.5" cy="160.2" rx="3.1" ry="2.9" fill="none" stroke="#9090ff" stroke-width="0.5"/>
<ellipse cx="594.5" cy="160.2" rx="1.2" ry="0.9" fill="#fff" />
<ellipse cx="604.0" cy="163.0" rx="6.0" ry="6.0" fill="#0000ff" />
<ellipse cx="604.5" cy="162.7" rx="3.3" ry="3.3" fill="none" stroke="#9090ff" stroke-width="0.5"/>
<ellipse cx="604.5" cy="162.7" rx="1.8" ry="1.8" fill="none" stroke="#9090ff" stroke-width="0.5"/>
<ellipse cx="604.5" cy="162.7" rx="1.2" ry="0.9" fill="#fff" />
<ellipse cx="614.0" cy="163.0" rx="10.0" ry="8.0" fill="#0000ff" />
<ellipse cx="614.5" cy="162.7" rx="5.5" ry="4.4" fill="none" stroke="#9090ff" stroke-width="0.5"/>
<ellipse cx="614.5" cy="162.7" rx="3.0" ry="2.4" fill="none" stroke="#9090ff" stroke-width="0.5"/>
<ellipse cx="614.5" cy="162.7" rx="1.2" ry="0.9" fill="#fff" />
<ellipse cx="657.4" cy="154.0" rx="10.8" ry="7.5" fill="#0000ff" />
<ellipse cx="657.9" cy="153.7" rx="5.9" ry="4.1" fill="none" stroke="#9090ff" stroke-width="0.5"/>
<ellipse cx="657.9" cy="153.7" rx="3.2" ry="2.2" fill="none" stroke="#9090ff" stroke-width="0.5"/>
<ellipse cx="657.9" cy="153.7" rx="1.2" ry="0.9" fill="#fff" />
<ellipse cx="677.3" cy="169.9" rx="5.0" ry="10.0" fill="#0000ff" />
<ellipse cx="677.8" cy="169.6" rx="2.8" ry="5.5" fill="none" stroke="#9090ff" stroke-width="0.5"/>
<ellipse cx="677.8" cy="169.6" rx="1.5" ry="3.0" fill="none" stroke="#9090ff" stroke-width="0.5"/>
<ellipse cx="677.8" cy="169.6" rx="1.2" ry="0.9" fill="#fff" />
<ellipse cx="553.0" cy="171.0" rx="10.0" ry="6.0" fill="#0000ff" transform="rotate(-35 553.0 171.0)" />
<ellipse cx="553.5" cy="170.7" rx="5.5" ry="3.3" fill="none" transform="rotate(-35 553.5 170.7)" stroke="#9090ff" stroke-width="0.5"/>
<ellipse cx="553.5" cy="170.7" rx="3.0" ry="1.8" fill="none" transform="rotate(-35 553.5 170.7)" stroke="#9090ff" stroke-width="0.5"/>
<ellipse cx="553.5" cy="170.7" rx="1.2" ry="0.9" fill="#fff" />
<ellipse cx="559.0" cy="218.0" rx="9.0" ry="8.0" fill="#0000ff" />
<ellipse cx="559.5" cy="217.7" rx="5.0" ry="4.4" fill="none" stroke="#9090ff" stroke-width="0.5"/>
<ellipse cx="559.5" cy="217.7" rx="2.7" ry="2.4" fill="none" stroke="#9090ff" stroke-width="0.5"/>
<ellipse cx="559.5" cy="217.7" rx="1.2" ry="0.9" fill="#fff" />
<ellipse cx="530.1" cy="214.7" rx="3.5" ry="4.0" fill="none" stroke="#0000ff" stroke-width="0.8"/>
<ellipse cx="530.1" cy="214.7" rx="2.4" ry="2.9" fill="none" stroke="#0000ff" stroke-width="0.8"/>
<ellipse cx="530.1" cy="214.7" rx="1.3" ry="1.8" fill="none" stroke="#0000ff" stroke-width="0.8"/>
<ellipse cx="640.3" cy="218.8" rx="8.3" ry="16.5" fill="#0000ff" transform="rotate(22 640.3 218.8)" />
<ellipse cx="640.8" cy="218.5" rx="4.6" ry="9.1" fill="none" transform="rotate(22 640.8 218.5)" stroke="#9090ff" stroke-width="0.5"/>
<ellipse cx="640.8" cy="218.5" rx="2.5" ry="5.0" fill="none" transform="rotate(22 640.8 218.5)" stroke="#9090ff" stroke-width="0.5"/>
<ellipse cx="640.8" cy="218.5" rx="1.2" ry="0.9" fill="#fff" />
<ellipse cx="578.0" cy="238.0" rx="9.0" ry="8.0" fill="#0000ff" />
<ellipse cx="578.5" cy="237.7" rx="5.0" ry="4.4" fill="none" stroke="#9090ff" stroke-width="0.5"/>
<ellipse cx="578.5" cy="237.7" rx="2.7" ry="2.4" fill="none" stroke="#9090ff" stroke-width="0.5"/>
<ellipse cx="578.5" cy="237.7" rx="1.2" ry="0.9" fill="#fff" />
<ellipse cx="652.0" cy="250.0" rx="9.0" ry="8.0" fill="#0000ff" />
<ellipse cx="652.5" cy="249.7" rx="5.0" ry="4.4" fill="none" stroke="#9090ff" stroke-width="0.5"/>
<ellipse cx="652.5" cy="249.7" rx="2.7" ry="2.4" fill="none" stroke="#9090ff" stroke-width="0.5"/>
<ellipse cx="652.5" cy="249.7" rx="1.2" ry="0.9" fill="#fff" />
<ellipse cx="503.0" cy="245.0" rx="8.0" ry="7.0" fill="#0000ff" />
<ellipse cx="503.5" cy="244.7" rx="4.4" ry="3.9" fill="none" stroke="#9090ff" stroke-width="0.5"/>
<ellipse cx="503.5" cy="244.7" rx="2.4" ry="2.1" fill="none" stroke="#9090ff" stroke-width="0.5"/>
<ellipse cx="503.5" cy="244.7" rx="1.2" ry="0.9" fill="#fff" />
<ellipse cx="505.0" cy="258.0" rx="9.0" ry="6.0" fill="#0000ff" />
<ellipse cx="505.5" cy="257.7" rx="5.0" ry="3.3" fill="none" stroke="#9090ff" stroke-width="0.5"/>
<ellipse cx="505.5" cy="257.7" rx="2.7" ry="1.8" fill="none" stroke="#9090ff" stroke-width="0.5"/>
<ellipse cx="505.5" cy="257.7" rx="1.2" ry="0.9" fill="#fff" />
<ellipse cx="567.3" cy="271.5" rx="8.5" ry="15.0" fill="#0000ff" transform="rotate(40 567.3 271.5)" />
<ellipse cx="567.8" cy="271.2" rx="4.7" ry="8.2" fill="none" transform="rotate(40 567.8 271.2)" stroke="#9090ff" stroke-width="0.5"/>
<ellipse cx="567.8" cy="271.2" rx="2.5" ry="4.5" fill="none" transform="rotate(40 567.8 271.2)" stroke="#9090ff" stroke-width="0.5"/>
<ellipse cx="567.8" cy="271.2" rx="1.2" ry="0.9" fill="#fff" />
<ellipse cx="570.5" cy="266.5" rx="8.5" ry="8.5" fill="#0000ff" />
<ellipse cx="571.0" cy="266.2" rx="4.7" ry="4.7" fill="none" stroke="#9090ff" stroke-width="0.5"/>
<ellipse cx="571.0" cy="266.2" rx="2.5" ry="2.5" fill="none" stroke="#9090ff" stroke-width="0.5"/>
<ellipse cx="571.0" cy="266.2" rx="1.2" ry="0.9" fill="#fff" />
<ellipse cx="564.0" cy="276.5" rx="8.5" ry="7.5" fill="#0000ff" />
<ellipse cx="564.5" cy="276.2" rx="4.7" ry="4.1" fill="none" stroke="#9090ff" stroke-width="0.5"/>
<ellipse cx="564.5" cy="276.2" rx="2.5" ry="2.2" fill="none" stroke="#9090ff" stroke-width="0.5"/>
<ellipse cx="564.5" cy="276.2" rx="1.2" ry="0.9" fill="#fff" />
<ellipse cx="589.0" cy="297.0" rx="10.0" ry="8.5" fill="#0000ff" />
<ellipse cx="589.5" cy="296.7" rx="5.5" ry="4.7" fill="none" stroke="#9090ff" stroke-width="0.5"/>
<ellipse cx="589.5" cy="296.7" rx="3.0" ry="2.5" fill="none" stroke="#9090ff" stroke-width="0.5"/>
<ellipse cx="589.5" cy="296.7" rx="1.2" ry="0.9" fill="#fff" />
<ellipse cx="641.5" cy="302.0" rx="5.0" ry="6.0" fill="#0000ff" />
<ellipse cx="642.0" cy="301.7" rx="2.8" ry="3.3" fill="none" stroke="#9090ff" stroke-width="0.5"/>
<ellipse cx="642.0" cy="301.7" rx="1.5" ry="1.8" fill="none" stroke="#9090ff" stroke-width="0.5"/>
<ellipse cx="642.0" cy="301.7" rx="1.2" ry="0.9" fill="#fff" />
<ellipse cx="518.0" cy="319.5" rx="9.0" ry="4.0" fill="#0000ff" />
<ellipse cx="518.5" cy="319.2" rx="5.0" ry="2.2" fill="none" stroke="#9090ff" stroke-width="0.5"/>
<ellipse cx="518.5" cy="319.2" rx="2.7" ry="1.2" fill="none" stroke="#9090ff" stroke-width="0.5"/>
<ellipse cx="518.5" cy="319.2" rx="1.2" ry="0.9" fill="#fff" />
<ellipse cx="569.0" cy="329.0" rx="5.0" ry="11.0" fill="#0000ff" transform="rotate(20 569.0 329.0)" />
<ellipse cx="569.5" cy="328.7" rx="2.8" ry="6.1" fill="none" transform="rotate(20 569.5 328.7)" stroke="#9090ff" stroke-width="0.5"/>
<ellipse cx="569.5" cy="328.7" rx="1.5" ry="3.3" fill="none" transform="rotate(20 569.5 328.7)" stroke="#9090ff" stroke-width="0.5"/>
<ellipse cx="569.5" cy="328.7" rx="1.2" ry="0.9" fill="#fff" />
<ellipse cx="533.0" cy="347.0" rx="10.0" ry="7.0" fill="#0000ff" />
<ellipse cx="533.5" cy="346.7" rx="5.5" ry="3.9" fill="none" stroke="#9090ff" stroke-width="0.5"/>
<ellipse cx="533.5" cy="346.7" rx="3.0" ry="2.1" fill="none" stroke="#9090ff" stroke-width="0.5"/>
<ellipse cx="533.5" cy="346.7" rx="1.2" ry="0.9" fill="#fff" />
<ellipse cx="675.0" cy="342.0" rx="8.0" ry="7.0" fill="#0000ff" />
<ellipse cx="675.5" cy="341.7" rx="4.4" ry="3.9" fill="none" stroke="#9090ff" stroke-width="0.5"/>
<ellipse cx="675.5" cy="341.7" rx="2.4" ry="2.1" fill="none" stroke="#9090ff" stroke-width="0.5"/>
<ellipse cx="675.5" cy="341.7" rx="1.2" ry="0.9" fill="#fff" />
<ellipse cx="555.0" cy="375.0" rx="11.0" ry="9.0" fill="#0000ff" />
<ellipse cx="555.5" cy="374.7" rx="6.1" ry="5.0" fill="none" stroke="#9090ff" stroke-width="0.5"/>
<ellipse cx="555.5" cy="374.7" rx="3.3" ry="2.7" fill="none" stroke="#9090ff" stroke-width="0.5"/>
<ellipse cx="555.5" cy="374.7" rx="1.2" ry="0.9" fill="#fff" />
<ellipse cx="643.0" cy="200.5" rx="3.6" ry="4.2" fill="none" stroke="#0000ff" stroke-width="0.8"/>
<ellipse cx="643.0" cy="200.5" rx="2.2" ry="2.8" fill="none" stroke="#0000ff" stroke-width="0.8"/>
<ellipse cx="553.2" cy="286.2" rx="1.4" ry="1.4" fill="none" stroke="#fff" stroke-width="0.7"/>
<ellipse cx="553.2" cy="286.2" rx="2.8" ry="2.8" fill="none" stroke="#fff" stroke-width="0.7"/>
<text x="637.9" y="168.5" font-size="7.5" fill="#1a1a1a" stroke="#1a1a1a" stroke-width="0.18">A382</text>
<text x="650.9" y="178.6" font-size="7.5" fill="#1a1a1a" stroke="#1a1a1a" stroke-width="0.18">L299</text>
<text x="570.8" y="205.2" font-size="7.5" fill="#1a1a1a" stroke="#1a1a1a" stroke-width="0.18">Y374</text>
<text x="500.0" y="275.8" font-size="7.5" fill="#1a1a1a" stroke="#1a1a1a" stroke-width="0.18">K408</text>
<text x="529.8" y="289.4" font-size="7.5" fill="#1a1a1a" stroke="#1a1a1a" stroke-width="0.18">L270</text>
<text x="596.4" y="282.6" font-size="7.5" fill="#1a1a1a" stroke="#1a1a1a" stroke-width="0.18">A382</text>
<text x="502.7" y="360.6" font-size="7.5" fill="#1a1a1a" stroke="#1a1a1a" stroke-width="0.18">A297</text>
<text x="610.2" y="150.9" font-size="7.5" fill="#ee2020">A321</text>
<text x="565.1" y="179.4" font-size="7.5" fill="#ee2020">Q343</text>
<text x="659.6" y="212.8" font-size="7.5" fill="#ee2020">A326</text>
<text x="656.1" y="229.1" font-size="7.5" fill="#ee2020">A325</text>
<text x="593.9" y="244.5" font-size="7.5" fill="#ee2020">L340</text>
<text x="656.1" y="263.5" font-size="7.5" fill="#ee2020">W334</text>
<text x="643.3" y="294.3" font-size="7.5" fill="#ee2020">A328</text>
<text x="501.3" y="332.3" font-size="7.5" fill="#ee2020">N319</text>
<text x="577.4" y="342.4" font-size="7.5" fill="#ee2020">A324</text>
<text x="648.8" y="354.6" font-size="7.5" fill="#ee2020">A315</text>
<text x="524.7" y="384.5" font-size="7.5" fill="#ee2020">A341</text></g>
<rect x="494.5" y="140.6" width="185.60000000000002" height="270.20000000000005" fill="none" stroke="#2a2a2a" stroke-width="1.1"/>
<line x1="481.0" y1="217.8" x2="494.5" y2="217.8" stroke="#2a2a2a" stroke-width="1.1" />
<text x="478.3" y="221.7" font-size="14.2" fill="#111" font-weight="normal" text-anchor="end" >122</text>
<line x1="481.0" y1="372.6" x2="494.5" y2="372.6" stroke="#2a2a2a" stroke-width="1.1" />
<text x="478.3" y="376.5" font-size="14.2" fill="#111" font-weight="normal" text-anchor="end" >124</text>
<line x1="556.2" y1="410.8" x2="556.2" y2="424.5" stroke="#2a2a2a" stroke-width="1.1" />
<text x="559.8" y="436.9" font-size="14" fill="#111" font-weight="normal" text-anchor="middle" >8.20</text>
<line x1="618.0" y1="410.8" x2="618.0" y2="424.5" stroke="#2a2a2a" stroke-width="1.1" />
<text x="621.6" y="436.9" font-size="14" fill="#111" font-weight="normal" text-anchor="middle" >8.10</text>
<text x="589.2" y="457" font-size="17.3" fill="#111" text-anchor="middle"><tspan font-size="11" dy="-6.5">1</tspan><tspan dy="6.5">H &#160;Chemical Shift (ppm)</tspan></text>
<text transform="translate(449,276) rotate(-90)" font-size="17.3" fill="#111" text-anchor="middle"><tspan font-size="11" dy="-6.5">15</tspan><tspan dy="6.5">N Chemical Shift (ppm)</tspan></text>
<text x="422.0" y="508.0" font-size="26" fill="#000" font-weight="bold" text-anchor="start" >D</text>
<rect x="494" y="642.6" width="185.5" height="139.9" fill="#f7f4d0"/>
<rect x="538.2" y="526.8" width="11.7" height="2.0" fill="#ff0000" />
<rect x="538.2" y="528.8" width="8.9" height="2.0" fill="#0000ff" />
<rect x="516.8" y="532.9" width="21.4" height="2.0" fill="#ff0000" />
<rect x="516.6" y="534.9" width="21.6" height="2.0" fill="#0000ff" />
<rect x="521.7" y="539.0" width="16.5" height="2.0" fill="#ff0000" />
<rect x="530.3" y="541.0" width="7.9" height="2.0" fill="#0000ff" />
<rect x="524.1" y="545.2" width="14.1" height="2.0" fill="#ff0000" />
<rect x="526.9" y="547.2" width="11.3" height="2.0" fill="#0000ff" />
<rect x="538.2" y="551.3" width="9.6" height="2.0" fill="#ff0000" />
<rect x="538.2" y="553.3" width="9.6" height="2.0" fill="#0000ff" />
<rect x="533.2" y="557.4" width="5.0" height="2.0" fill="#ff0000" />
<rect x="529.6" y="559.4" width="8.6" height="2.0" fill="#0000ff" />
<rect x="538.2" y="563.5" width="2.6" height="2.0" fill="#ff0000" />
<rect x="515.3" y="569.7" width="22.9" height="2.0" fill="#ff0000" />
<rect x="518.2" y="571.7" width="20.0" height="2.0" fill="#0000ff" />
<rect x="531.8" y="575.8" width="6.4" height="2.0" fill="#ff0000" />
<rect x="536.7" y="577.8" width="1.5" height="2.0" fill="#0000ff" />
<rect x="538.2" y="581.9" width="2.3" height="2.0" fill="#ff0000" />
<rect x="538.2" y="583.9" width="3.4" height="2.0" fill="#0000ff" />
<rect x="536.2" y="588.0" width="2.0" height="2.0" fill="#ff0000" />
<rect x="538.2" y="590.0" width="4.8" height="2.0" fill="#0000ff" />
<rect x="501.1" y="594.2" width="37.1" height="2.0" fill="#ff0000" />
<rect x="499.9" y="596.2" width="38.3" height="2.0" fill="#0000ff" />
<rect x="503.1" y="600.3" width="35.1" height="2.0" fill="#ff0000" />
<rect x="508.0" y="602.3" width="30.2" height="2.0" fill="#0000ff" />
<rect x="538.2" y="606.4" width="17.2" height="2.0" fill="#ff0000" />
<rect x="538.2" y="608.4" width="18.4" height="2.0" fill="#0000ff" />
<rect x="538.2" y="612.5" width="14.6" height="2.0" fill="#ff0000" />
<rect x="538.2" y="614.5" width="15.5" height="2.0" fill="#0000ff" />
<rect x="524.0" y="618.7" width="14.2" height="2.0" fill="#ff0000" />
<rect x="532.3" y="620.7" width="5.9" height="2.0" fill="#0000ff" />
<rect x="534.2" y="624.8" width="4.0" height="2.0" fill="#ff0000" />
<rect x="538.2" y="626.8" width="5.8" height="2.0" fill="#0000ff" />
<rect x="538.2" y="630.9" width="19.0" height="2.0" fill="#ff0000" />
<rect x="538.2" y="632.9" width="16.9" height="2.0" fill="#0000ff" />
<rect x="514.2" y="637.0" width="24.0" height="2.0" fill="#ff0000" />
<rect x="516.0" y="639.0" width="22.2" height="2.0" fill="#0000ff" />
<rect x="538.2" y="643.2" width="9.6" height="2.0" fill="#ff0000" />
<rect x="538.2" y="645.2" width="7.1" height="2.0" fill="#0000ff" />
<rect x="538.2" y="649.3" width="122.8" height="2.0" fill="#ff0000" />
<rect x="538.2" y="651.3" width="136.8" height="2.0" fill="#0000ff" />
<rect x="538.2" y="655.4" width="105.0" height="2.0" fill="#ff0000" />
<rect x="538.2" y="657.4" width="112.2" height="2.0" fill="#0000ff" />
<rect x="538.2" y="661.5" width="83.7" height="2.0" fill="#ff0000" />
<rect x="538.2" y="663.5" width="87.0" height="2.0" fill="#0000ff" />
<rect x="538.2" y="667.7" width="117.5" height="2.0" fill="#ff0000" />
<rect x="538.2" y="669.7" width="130.5" height="2.0" fill="#0000ff" />
<rect x="538.2" y="673.8" width="113.7" height="2.0" fill="#ff0000" />
<rect x="538.2" y="675.8" width="118.0" height="2.0" fill="#0000ff" />
<rect x="538.2" y="679.9" width="111.0" height="2.0" fill="#ff0000" />
<rect x="538.2" y="681.9" width="117.0" height="2.0" fill="#0000ff" />
<rect x="538.2" y="686.0" width="96.5" height="2.0" fill="#ff0000" />
<rect x="538.2" y="688.0" width="102.8" height="2.0" fill="#0000ff" />
<rect x="538.2" y="692.2" width="122.5" height="2.0" fill="#ff0000" />
<rect x="538.2" y="694.2" width="127.0" height="2.0" fill="#0000ff" />
<rect x="538.2" y="698.3" width="97.6" height="2.0" fill="#ff0000" />
<rect x="538.2" y="700.3" width="104.0" height="2.0" fill="#0000ff" />
<rect x="538.2" y="704.4" width="81.6" height="2.0" fill="#ff0000" />
<rect x="538.2" y="706.4" width="84.4" height="2.0" fill="#0000ff" />
<rect x="538.2" y="710.5" width="54.5" height="2.0" fill="#ff0000" />
<rect x="538.2" y="712.5" width="64.5" height="2.0" fill="#0000ff" />
<rect x="538.2" y="716.7" width="59.5" height="2.0" fill="#ff0000" />
<rect x="538.2" y="718.7" width="61.3" height="2.0" fill="#0000ff" />
<rect x="538.2" y="722.8" width="46.6" height="2.0" fill="#ff0000" />
<rect x="538.2" y="724.8" width="42.5" height="2.0" fill="#0000ff" />
<rect x="538.2" y="728.9" width="23.3" height="2.0" fill="#ff0000" />
<rect x="538.2" y="735.0" width="23.3" height="2.0" fill="#ff0000" />
<rect x="538.2" y="737.0" width="28.5" height="2.0" fill="#0000ff" />
<rect x="538.2" y="741.2" width="28.3" height="2.0" fill="#ff0000" />
<rect x="538.2" y="743.2" width="28.3" height="2.0" fill="#0000ff" />
<rect x="538.2" y="747.3" width="35.7" height="2.0" fill="#ff0000" />
<rect x="538.2" y="749.3" width="38.4" height="2.0" fill="#0000ff" />
<rect x="538.2" y="753.4" width="36.4" height="2.0" fill="#ff0000" />
<rect x="538.2" y="755.4" width="36.4" height="2.0" fill="#0000ff" />
<rect x="538.2" y="759.5" width="19.9" height="2.0" fill="#ff0000" />
<rect x="538.2" y="761.5" width="28.5" height="2.0" fill="#0000ff" />
<rect x="538.2" y="765.7" width="54.0" height="2.0" fill="#ff0000" />
<rect x="538.2" y="767.7" width="52.2" height="2.0" fill="#0000ff" />
<rect x="538.2" y="771.8" width="22.6" height="2.0" fill="#ff0000" />
<rect x="538.2" y="773.8" width="21.7" height="2.0" fill="#0000ff" />
<rect x="538.2" y="777.9" width="41.8" height="2.0" fill="#ff0000" />
<rect x="538.2" y="779.9" width="49.7" height="2.0" fill="#0000ff" />
<rect x="538.2" y="784.0" width="26.0" height="2.0" fill="#ff0000" />
<rect x="538.2" y="786.0" width="34.6" height="2.0" fill="#0000ff" />
<rect x="538.2" y="790.2" width="3.6" height="2.0" fill="#ff0000" />
<rect x="538.2" y="792.2" width="8.6" height="2.0" fill="#0000ff" />
<rect x="536.7" y="796.3" width="1.5" height="2.0" fill="#ff0000" />
<rect x="538.2" y="798.3" width="1.2" height="2.0" fill="#0000ff" />
<rect x="528.4" y="802.4" width="9.8" height="2.0" fill="#ff0000" />
<rect x="537.2" y="804.4" width="1.0" height="2.0" fill="#0000ff" />
<rect x="529.4" y="808.5" width="8.8" height="2.0" fill="#ff0000" />
<rect x="538.2" y="810.5" width="6.3" height="2.0" fill="#0000ff" />
<rect x="528.1" y="814.7" width="10.1" height="2.0" fill="#ff0000" />
<rect x="531.6" y="816.7" width="6.6" height="2.0" fill="#0000ff" />
<rect x="537.2" y="820.8" width="1.0" height="2.0" fill="#ff0000" />
<rect x="538.2" y="826.9" width="21.9" height="2.0" fill="#ff0000" />
<rect x="525.9" y="833.0" width="12.3" height="2.0" fill="#ff0000" />
<rect x="528.4" y="835.0" width="9.8" height="2.0" fill="#0000ff" />
<rect x="534.2" y="839.2" width="4.0" height="2.0" fill="#ff0000" />
<rect x="533.2" y="841.2" width="5.0" height="2.0" fill="#0000ff" />
<rect x="508.7" y="845.3" width="29.5" height="2.0" fill="#ff0000" />
<rect x="514.1" y="847.3" width="24.1" height="2.0" fill="#0000ff" />
<rect x="523.0" y="851.4" width="15.2" height="2.0" fill="#ff0000" />
<rect x="518.2" y="853.4" width="20.0" height="2.0" fill="#0000ff" />
<rect x="532.8" y="857.5" width="5.4" height="2.0" fill="#ff0000" />
<rect x="536.4" y="859.5" width="1.8" height="2.0" fill="#0000ff" />
<rect x="537.5" y="863.7" width="0.7" height="2.0" fill="#ff0000" />
<rect x="535.0" y="865.7" width="3.2" height="2.0" fill="#0000ff" />
<rect x="534.2" y="869.8" width="4.0" height="2.0" fill="#ff0000" />
<rect x="538.2" y="875.9" width="2.9" height="2.0" fill="#ff0000" />
<rect x="538.2" y="877.9" width="4.8" height="2.0" fill="#0000ff" />
<rect x="529.4" y="882.0" width="8.8" height="2.0" fill="#ff0000" />
<rect x="530.6" y="884.0" width="7.6" height="2.0" fill="#0000ff" />
<rect x="524.5" y="888.2" width="13.7" height="2.0" fill="#ff0000" />
<rect x="525.5" y="890.2" width="12.7" height="2.0" fill="#0000ff" />
<rect x="516.3" y="894.3" width="21.9" height="2.0" fill="#ff0000" />
<rect x="517.2" y="896.3" width="21.0" height="2.0" fill="#0000ff" />
<rect x="494" y="522.6" width="185.5" height="380.79999999999995" fill="none" stroke="#2a2a2a" stroke-width="1.1"/>
<line x1="538.2" y1="522.6" x2="538.2" y2="903.4" stroke="#222" stroke-width="1.1" />
<line x1="481.5" y1="528.8" x2="494.0" y2="528.8" stroke="#2a2a2a" stroke-width="1.1" />
<text x="478.4" y="532.7" font-size="14.5" fill="#111" font-weight="normal" text-anchor="end" >300</text>
<line x1="481.5" y1="590.0" x2="494.0" y2="590.0" stroke="#2a2a2a" stroke-width="1.1" />
<text x="478.4" y="593.9" font-size="14.5" fill="#111" font-weight="normal" text-anchor="end" >310</text>
<line x1="481.5" y1="651.3" x2="494.0" y2="651.3" stroke="#2a2a2a" stroke-width="1.1" />
<text x="478.4" y="655.2" font-size="14.5" fill="#111" font-weight="normal" text-anchor="end" >320</text>
<line x1="481.5" y1="712.5" x2="494.0" y2="712.5" stroke="#2a2a2a" stroke-width="1.1" />
<text x="478.4" y="716.4" font-size="14.5" fill="#111" font-weight="normal" text-anchor="end" >330</text>
<line x1="481.5" y1="773.8" x2="494.0" y2="773.8" stroke="#2a2a2a" stroke-width="1.1" />
<text x="478.4" y="777.7" font-size="14.5" fill="#111" font-weight="normal" text-anchor="end" >340</text>
<line x1="481.5" y1="835.0" x2="494.0" y2="835.0" stroke="#2a2a2a" stroke-width="1.1" />
<text x="478.4" y="838.9" font-size="14.5" fill="#111" font-weight="normal" text-anchor="end" >350</text>
<line x1="481.5" y1="896.3" x2="494.0" y2="896.3" stroke="#2a2a2a" stroke-width="1.1" />
<text x="478.4" y="900.2" font-size="14.5" fill="#111" font-weight="normal" text-anchor="end" >360</text>
<line x1="494.0" y1="903.4" x2="494.0" y2="915.0" stroke="#2a2a2a" stroke-width="1.1" />
<text x="490.4" y="927.6" font-size="14.3" fill="#111" font-weight="normal" text-anchor="middle" >-0.5</text>
<line x1="538.2" y1="903.4" x2="538.2" y2="915.0" stroke="#2a2a2a" stroke-width="1.1" />
<text x="538.2" y="927.6" font-size="14.3" fill="#111" font-weight="normal" text-anchor="middle" >0.0</text>
<line x1="582.5" y1="903.4" x2="582.5" y2="915.0" stroke="#2a2a2a" stroke-width="1.1" />
<text x="582.5" y="927.6" font-size="14.3" fill="#111" font-weight="normal" text-anchor="middle" >0.5</text>
<line x1="626.8" y1="903.4" x2="626.8" y2="915.0" stroke="#2a2a2a" stroke-width="1.1" />
<text x="626.8" y="927.6" font-size="14.3" fill="#111" font-weight="normal" text-anchor="middle" >1.0</text>
<line x1="671.0" y1="903.4" x2="671.0" y2="915.0" stroke="#2a2a2a" stroke-width="1.1" />
<text x="671.0" y="927.6" font-size="14.3" fill="#111" font-weight="normal" text-anchor="middle" >1.5</text>
<text x="598.5" y="946.5" font-size="16.5" fill="#111" text-anchor="middle">ΔC<tspan font-size="10.5" dy="6">α</tspan></text>
<text transform="translate(443.3,710.6) rotate(-90)" font-size="17.3" fill="#111" text-anchor="middle">Residue index</text>
<text x="546.2" y="510.9" font-size="14.4" fill="#111" font-weight="bold" text-anchor="start" >more helical</text>
<line x1="538.2" y1="515.5" x2="671.0" y2="515.5" stroke="#111" stroke-width="1.6" />
<path d="M670 510 L680.5 515.5 L670 521 Z" fill="#111"/>
<text x="544.0" y="543.2" font-size="13.5" fill="#0000ff" font-weight="normal" text-anchor="start" textLength="133" lengthAdjust="spacingAndGlyphs">pH 7.0,150 mM NaCl</text>
<text x="578.0" y="561.0" font-size="13.5" fill="#ff0000" font-weight="normal" text-anchor="start" textLength="92" lengthAdjust="spacingAndGlyphs">pH 6.1, no salt</text>
</svg></body></html>
